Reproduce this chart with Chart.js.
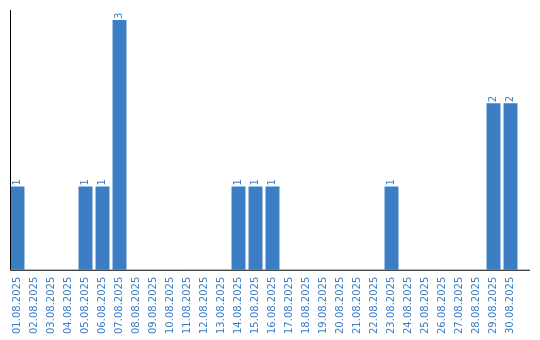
<!DOCTYPE html>
<html>
<head>
<meta charset="utf-8">
<script src="https://cdn.jsdelivr.net/npm/chart.js@4/dist/chart.umd.min.js"></script>
<style>
  html, body { margin: 0; padding: 0; background: #fff; }
  #wrap { width: 540px; height: 340px; }
</style>
</head>
<body>
<div id="wrap"><canvas id="barChart"></canvas></div>
<script>
const days = [
    "01.08.2025", "02.08.2025", "03.08.2025", "04.08.2025", "05.08.2025",
    "06.08.2025", "07.08.2025", "08.08.2025", "09.08.2025", "10.08.2025",
    "11.08.2025", "12.08.2025", "13.08.2025", "14.08.2025", "15.08.2025",
    "16.08.2025", "17.08.2025", "18.08.2025", "19.08.2025", "20.08.2025",
    "21.08.2025", "22.08.2025", "23.08.2025", "24.08.2025", "25.08.2025",
    "26.08.2025", "27.08.2025", "28.08.2025", "29.08.2025", "30.08.2025"
];
const counts = [
    1, 0, 0, 0, 1,
    1, 3, 0, 0, 0,
    0, 0, 0, 1, 1,
    1, 0, 0, 0, 0,
    0, 0, 1, 0, 0,
    0, 0, 0, 2, 2
];

const blue = '#3b7ec4';

// value labels above bars, rotated like the tick labels
const barLabels = {
    id: 'barLabels',
    afterDatasetsDraw(chart) {
        const ctx = chart.ctx;
        const meta = chart.getDatasetMeta(0);
        ctx.save();
        ctx.fillStyle = blue;
        ctx.font = '10px "DejaVu Sans"';
        ctx.textAlign = 'left';
        ctx.textBaseline = 'middle';
        meta.data.forEach(function (bar, i) {
            if (!counts[i]) return;
            ctx.save();
            ctx.translate(bar.x, bar.y - 1);
            ctx.rotate(-Math.PI / 2);
            ctx.fillText(String(counts[i]), 0, 0);
            ctx.restore();
        });
        ctx.restore();
    }
};

// axis lines: y axis at the left, x axis running a bit past the last bar
const axisLines = {
    id: 'axisLines',
    afterDraw(chart) {
        const ctx = chart.ctx;
        const a = chart.chartArea;
        ctx.save();
        ctx.strokeStyle = '#000';
        ctx.lineWidth = 1;
        ctx.beginPath();
        ctx.moveTo(a.left + 1.5, a.top);
        ctx.lineTo(a.left + 1.5, a.bottom);
        ctx.moveTo(a.left + 1, a.bottom + 0.5);
        ctx.lineTo(a.right + 11, a.bottom + 0.5);
        ctx.stroke();
        ctx.restore();
    }
};

window.onload = function () {
    const data = {
        labels: days,
        datasets: [{
            data: counts,
            backgroundColor: blue,
            borderWidth: 0,
            barPercentage: 0.82,
            categoryPercentage: 1
        }]
    };

    const options = {
        responsive: true,
        maintainAspectRatio: false,
        animation: false,
        layout: {
            padding: { left: 9, right: 21, top: 10, bottom: -1 }
        },
        plugins: {
            legend: { display: false },
            tooltip: { enabled: false }
        },
        scales: {
            x: {
                grid: { display: false, drawTicks: false },
                border: { display: false },
                ticks: {
                    color: blue,
                    font: { family: 'DejaVu Sans', size: 10 },
                    maxRotation: 90,
                    minRotation: 90,
                    autoSkip: false,
                    padding: 7
                }
            },
            y: {
                min: 0,
                max: 3.12,
                grid: { display: false, drawTicks: false },
                border: { display: false },
                ticks: { display: false },
                afterFit: function (scale) { scale.width = 0; }
            }
        }
    };

    const config = {
        type: 'bar',
        data: data,
        options: options,
        plugins: [barLabels, axisLines]
    };

    var ctx = document.getElementById('barChart').getContext('2d');
    new Chart(ctx, config);
}
</script>
</body>
</html>
